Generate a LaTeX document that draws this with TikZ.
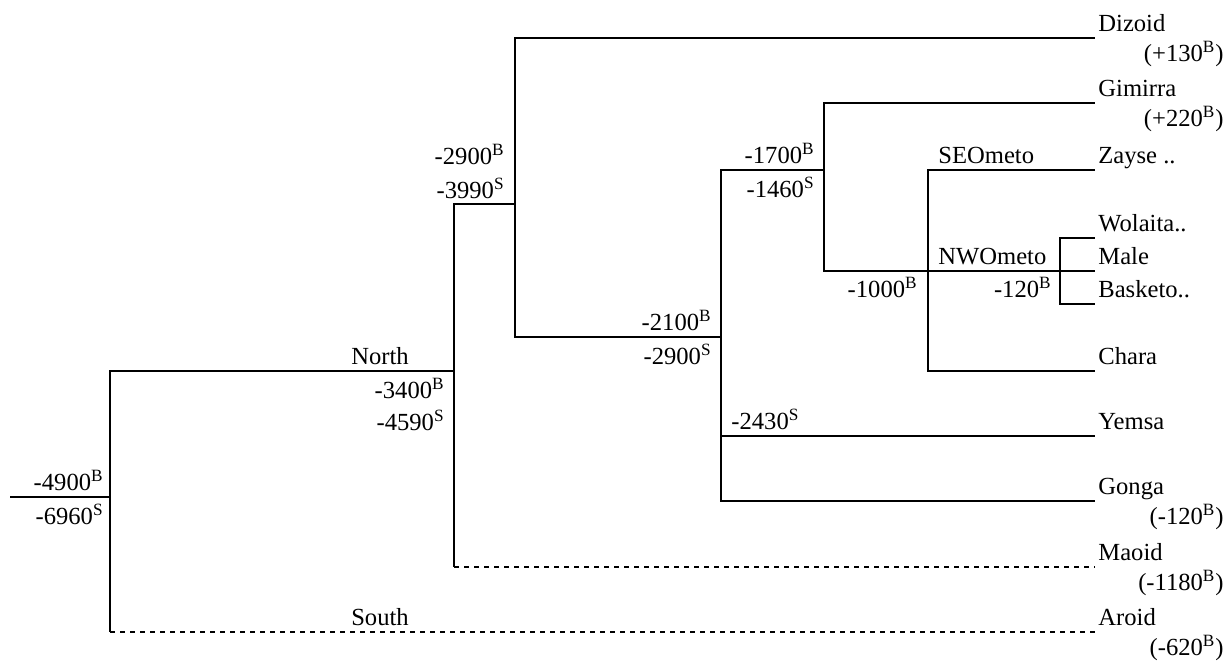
\documentclass[tikz,border=0pt]{standalone}
\usepackage{fontspec}
\setmainfont{Liberation Serif}
\usetikzlibrary{calc,positioning}

\begin{document}
\begin{tikzpicture}[
    % pixel-like units, y grows downwards
    x=0.5pt, y=-0.5pt,
    branch/.style={line width=0.8pt},
    dashbranch/.style={line width=0.8pt, dash pattern=on 2.5pt off 2.5pt},
    lbl/.style={inner sep=0pt, font=\fontsize{12.3}{15}\selectfont},
    leafname/.style={lbl, anchor=base west},
    agelabel/.style={lbl, anchor=base east},
    datelabel/.style={lbl, anchor=base east}
    ]
    
    \useasboundingbox (0,0) rectangle (1231,660);
    
    % Parameters
    \def\xleaf{1095}
    \def\xage{1224}
    
    % Junctions
    \coordinate (rootin) at (10,497);
    \coordinate (R) at (110,497);
    \coordinate (N) at (454,371);
    \coordinate (U) at (515,204);
    \coordinate (C) at (721,337);
    \coordinate (O) at (824,170);
    \coordinate (M) at (928,271);
    \coordinate (W) at (1060,271);
    
    % Leaves
    \foreach \nm/\yy/\txt in {dizoid/38/Dizoid, gimirra/103/Gimirra, zayse/170/Zayse .., wolaita/238/Wolaita.., male/271/Male, basketo/304/Basketo.., chara/371/Chara, yemsa/436/Yemsa, gonga/501/Gonga, maoid/567/Maoid, aroid/632/Aroid}{
        \coordinate (\nm) at (\xleaf,\yy);
        \node[leafname] (\nm-name) at ([shift={(3,-7)}]\nm) {\txt};
    }
    
    % Ages of the leaves
    \foreach \nm/\sub in {dizoid/+130, gimirra/+220, gonga/-120, maoid/-1180, aroid/-620}{
        \node[agelabel] (\nm-age) at ([shift={(0,23)}]\xage,0 |- \nm) {(\sub\textsuperscript{B})};
    }
    
    % Branches
    \draw[branch] (rootin) -- (R);
    \draw[branch] (R) |- (N);
    \draw[branch] (R) -- (R |- aroid);
    \draw[dashbranch] (R |- aroid) -- (aroid);
    
    \draw[branch] (N) |- (U);
    \draw[branch] (N) -- (N |- maoid);
    \draw[dashbranch] (N |- maoid) -- (maoid);
    
    \draw[branch] (U) |- (dizoid);
    \draw[branch] (U) |- (C);
    
    \draw[branch] (C) |- (O);
    \draw[branch] (C) |- (yemsa);
    \draw[branch] (C) |- (gonga);
    
    \draw[branch] (O) |- (gimirra);
    \draw[branch] (O) |- (M);
    
    \draw[branch] (M) |- (zayse);
    \draw[branch] (M) |- (chara);
    \draw[branch] (M) -- (W);
    
    \draw[branch] (W) |- (wolaita);
    \draw[branch] (W) -- (male);
    \draw[branch] (W) |- (basketo);
    
    % Dates at the junctions
    \node[datelabel] (rootB) at ([shift={(-6,-7)}]R) {-4900\textsuperscript{B}};
    \node[datelabel] (rootS) at ([shift={(-6,27)}]R) {-6960\textsuperscript{S}};
    
    \node[lbl, anchor=base] (north) at ([shift={(-74,-7)}]N) {North};
    \node[datelabel] (northB) at ([shift={(-9,27)}]N) {-3400\textsuperscript{B}};
    \node[datelabel] (northS) at ([shift={(-9,59)}]N) {-4590\textsuperscript{S}};
    \node[lbl, anchor=base] (south) at ($(R |- aroid)+(270,-7)$) {South};
    
    \node[datelabel] (upB) at ([shift={(-10,-40)}]U) {-2900\textsuperscript{B}};
    \node[datelabel] (upS) at ([shift={(-10,-6)}]U) {-3990\textsuperscript{S}};
    
    \node[datelabel] (centB) at ([shift={(-9,-7)}]C) {-2100\textsuperscript{B}};
    \node[datelabel] (centS) at ([shift={(-9,27)}]C) {-2900\textsuperscript{S}};
    \node[lbl, anchor=base west] (yemsaS) at ($(C |- yemsa)+(10,-7)$) {-2430\textsuperscript{S}};
    
    \node[datelabel] (ometoB) at ([shift={(-9,-7)}]O) {-1700\textsuperscript{B}};
    \node[datelabel] (ometoS) at ([shift={(-9,27)}]O) {-1460\textsuperscript{S}};
    
    \node[lbl, anchor=base west] (seometo) at ($(M |- zayse)+(10,-7)$) {SEOmeto};
    \node[lbl, anchor=base west] (nwometo) at ([shift={(10,-7)}]M) {NWOmeto};
    \node[datelabel] (innerB) at ([shift={(-10,26)}]M) {-1000\textsuperscript{B}};
    \node[datelabel] (nwB) at ([shift={(-8,26)}]W) {-120\textsuperscript{B}};
\end{tikzpicture}
\end{document}
